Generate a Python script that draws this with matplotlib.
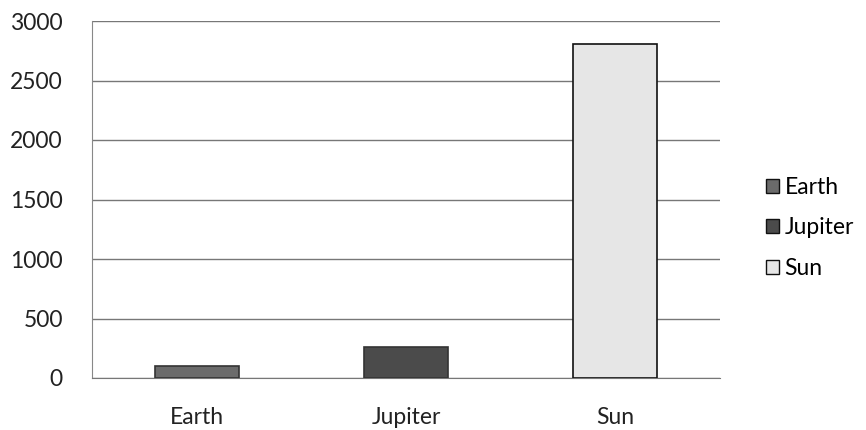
import matplotlib.pyplot as plt
from matplotlib.patches import Patch

# chart data
categories = ["Earth", "Jupiter", "Sun"]
values = [100, 260, 2810]
colors = ["#6b6b6b", "#4b4b4b", "#e6e6e6"]
edges = ["#333333", "#333333", "#111111"]
yticks = [0, 500, 1000, 1500, 2000, 2500, 3000]

plt.rcParams['font.family'] = ['Lato', 'DejaVu Sans']

fig = plt.figure(figsize=(8.66, 4.3), dpi=100)
ax = fig.add_axes([92 / 866, 1 - 378 / 430, 628 / 866, 357 / 430])

x = range(len(categories))
bars = ax.bar(x, values, width=0.4, color=colors, edgecolor=edges, linewidth=1.2, zorder=3)

ax.set_xlim(-0.5, len(categories) - 0.5)
ax.set_ylim(0, 3000)
ax.set_yticks(yticks)
ax.set_xticks(list(x))
ax.set_xticklabels(categories)
ax.tick_params(axis='both', length=0, labelsize=16.5, colors="#222222")
ax.tick_params(axis='x', pad=21)
ax.tick_params(axis='y', pad=21)
ax.grid(axis='y', color="#777777", linewidth=1.0, zorder=0)

for side in ["top", "right"]:
    ax.spines[side].set_visible(False)
ax.spines["left"].set_color("#888888")
ax.spines["bottom"].set_color("#777777")

handles = [Patch(facecolor=c, edgecolor="#111111", label=l)
           for c, l in zip(colors, categories)]
fig.legend(handles=handles, loc="center left", bbox_to_anchor=(757 / 866, 1 - 228 / 430),
           frameon=False, fontsize=16.5, handlelength=0.55, handleheight=0.55,
           handletextpad=0.25, labelspacing=0.85, borderaxespad=0)

fig.savefig("out.png", dpi=100, facecolor="white")
